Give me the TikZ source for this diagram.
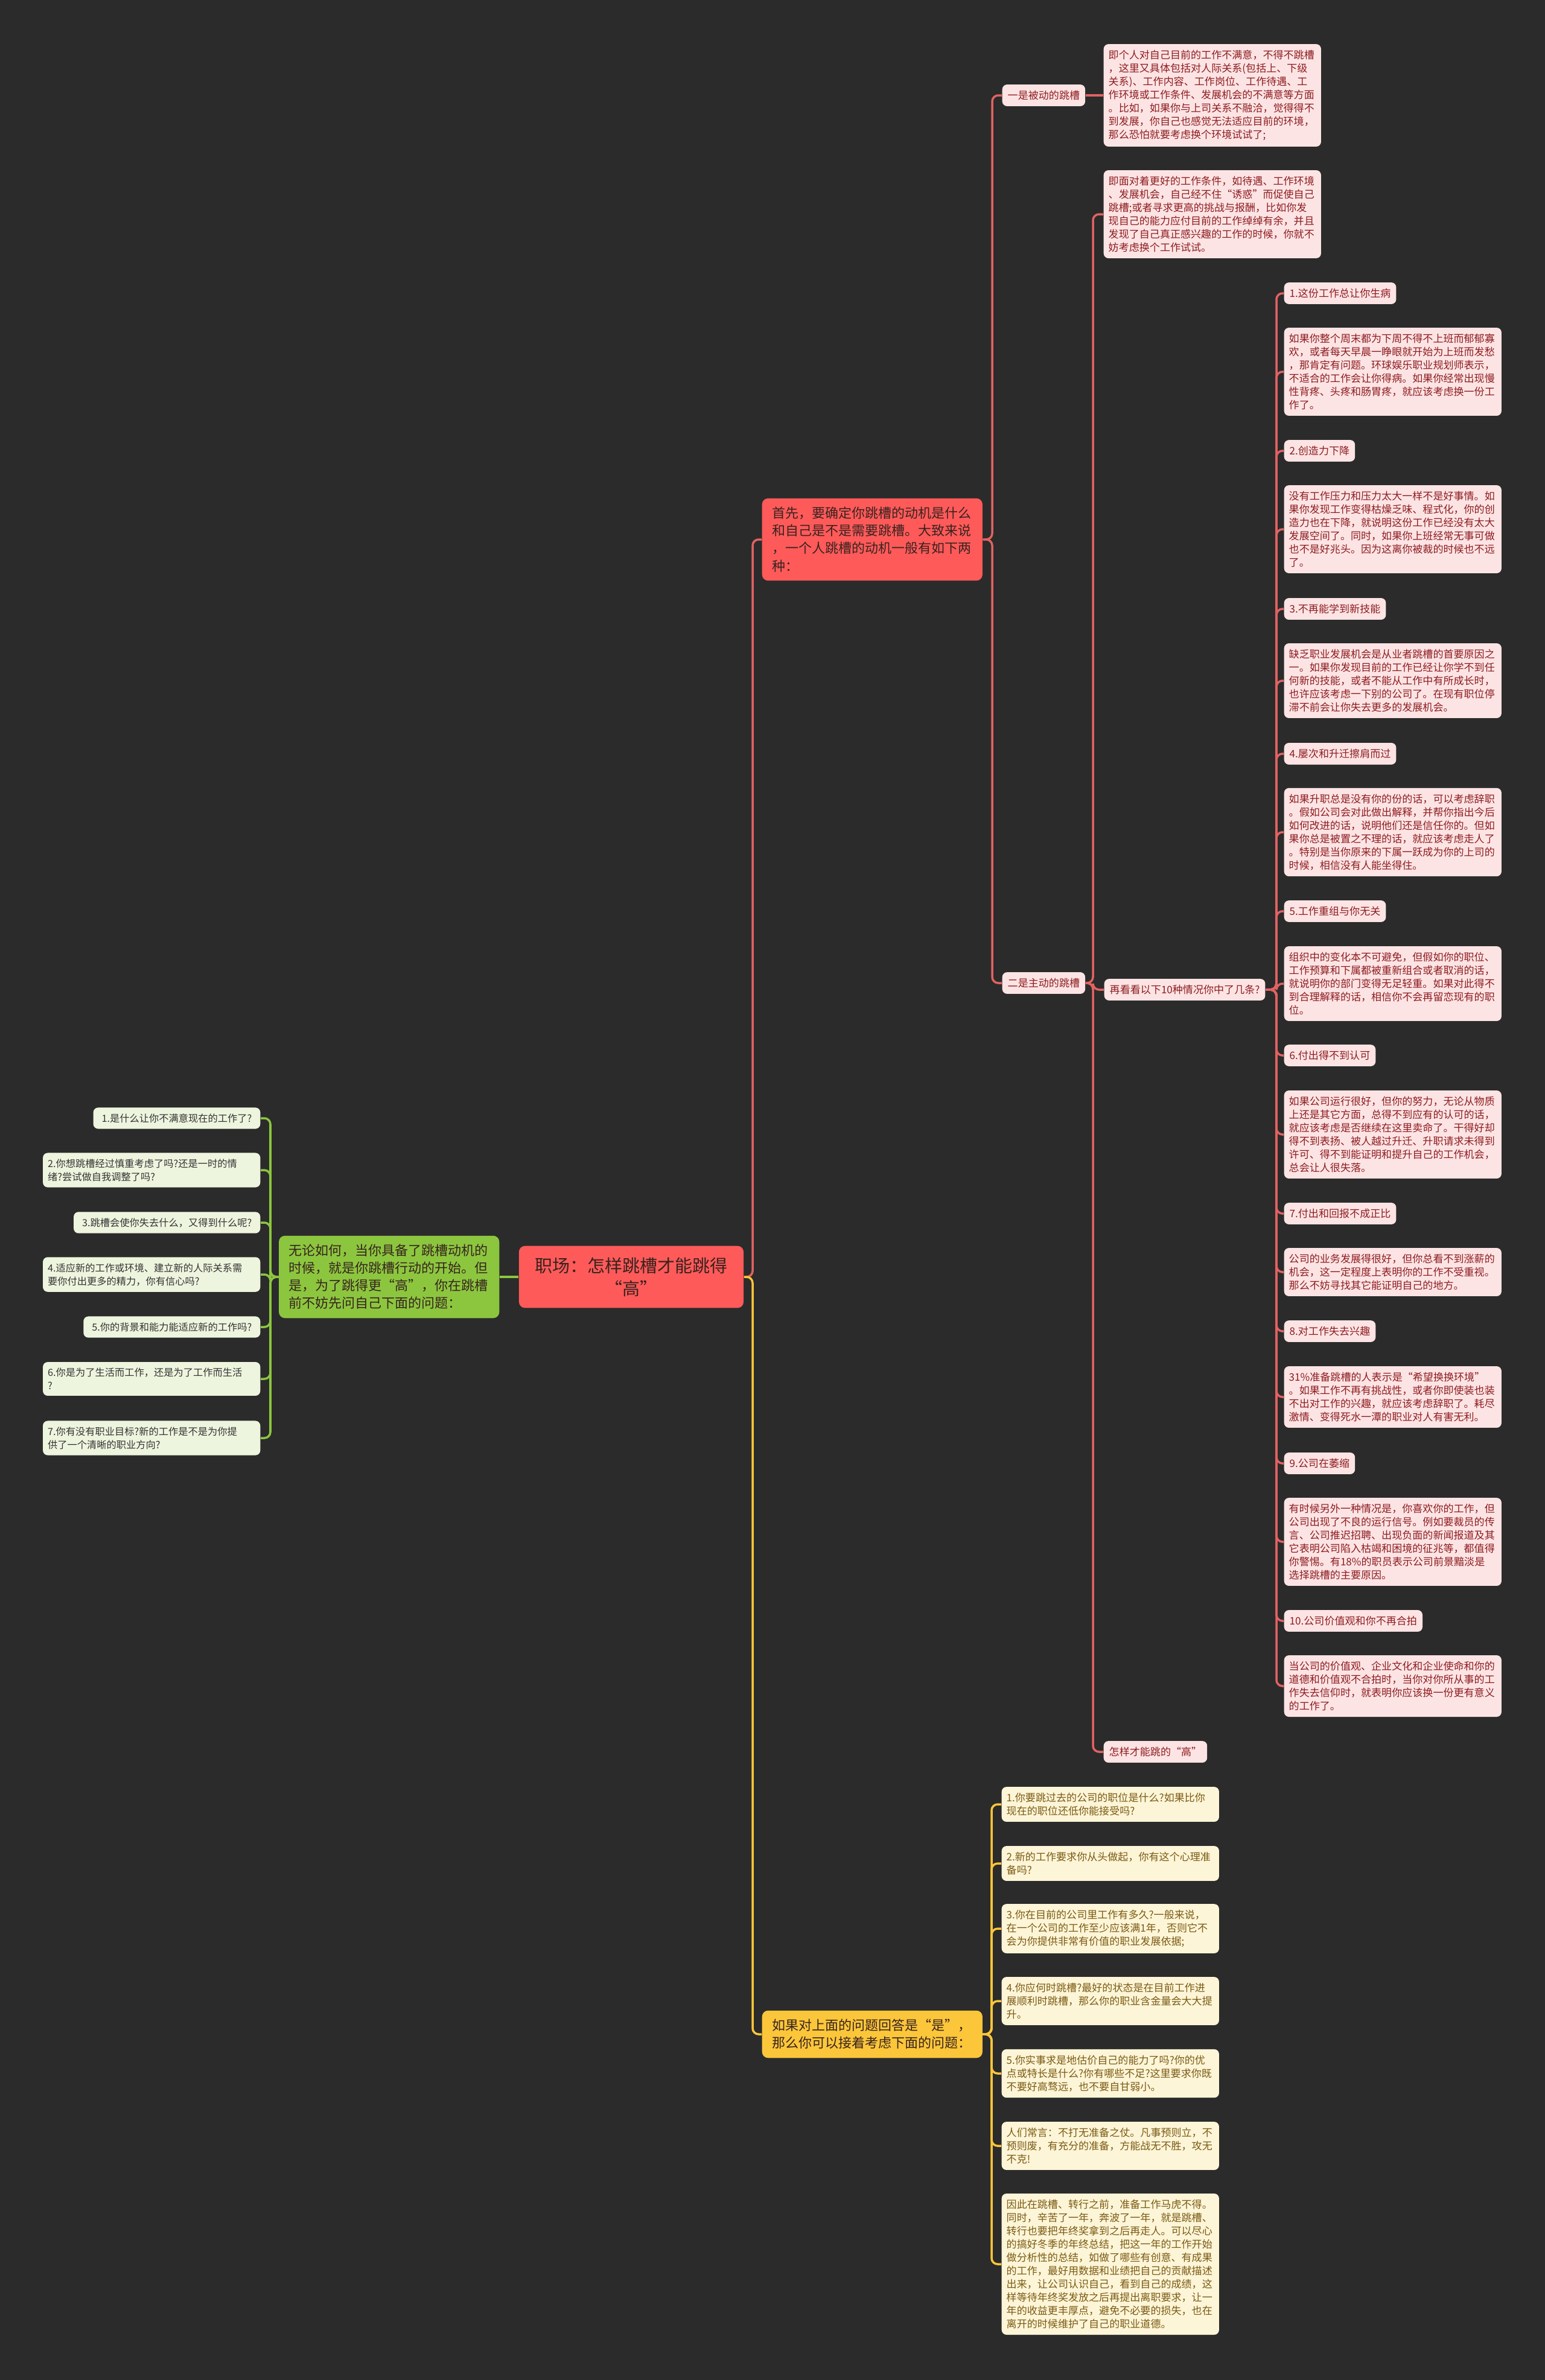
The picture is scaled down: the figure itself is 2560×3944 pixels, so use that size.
\documentclass[tikz,border=0pt]{standalone}
\usepackage{fontspec}
\setmainfont{Noto Sans CJK SC}
\usetikzlibrary{positioning}

\definecolor{bgc}{RGB}{43,43,43}
\definecolor{cRed}{RGB}{255,90,90}
\definecolor{cRedLine}{RGB}{226,98,98}
\definecolor{cPink}{RGB}{253,228,228}
\definecolor{cPinkTxt}{RGB}{140,28,32}
\definecolor{cGreen}{RGB}{140,198,63}
\definecolor{cGreenLt}{RGB}{238,245,222}
\definecolor{cYellow}{RGB}{252,198,58}
\definecolor{cYellowLt}{RGB}{253,245,215}
\definecolor{cBrown}{RGB}{122,90,20}
\definecolor{cDark}{RGB}{55,35,30}

\begin{document}
\begin{tikzpicture}[x=0.01cm,y=-0.01cm,
    bignode/.style={rounded corners=0.1cm,text width=3.32cm,inner xsep=0.165cm,inner ysep=0.145cm,
      font=\fontsize{6.26}{8.25}\selectfont,align=left,text=cDark},
    box/.style={rounded corners=0.08cm,text width=3.44cm,inner xsep=0.08cm,inner ysep=0.1cm,
      font=\fontsize{4.85}{6.26}\selectfont,align=left},
    lbl/.style={rounded corners=0.08cm,inner xsep=0.09cm,inner ysep=0.1cm,
      font=\fontsize{4.85}{6.26}\selectfont},
    pinkbox/.style={box,fill=cPink,text=cPinkTxt},
    pinklbl/.style={lbl,fill=cPink,text=cPinkTxt},
    ylwbox/.style={box,fill=cYellowLt,text=cBrown},
    grnbox/.style={box,fill=cGreenLt,text=black!80,font=\fontsize{4.62}{6.26}\selectfont},
    grnlbl/.style={lbl,fill=cGreenLt,text=black!80,inner xsep=0.14cm,font=\fontsize{4.62}{6.26}\selectfont},
    redln/.style={draw=cRedLine,line width=1pt,rounded corners=0.1cm},
    grnln/.style={draw=cGreen,line width=1pt,rounded corners=0.1cm},
    ylwln/.style={draw=cYellow,line width=1pt,rounded corners=0.1cm}]
  \fill[bgc] (0,0) rectangle (2560,3944);

  % trunks
  \coordinate (tR) at (1247,0);
  \coordinate (tA) at (1644,0);
  \coordinate (tB) at (1811,0);
  \coordinate (tC) at (2115,0);
  \coordinate (tY) at (1643,0);
  \coordinate (tG) at (448,0);

  % main nodes
  \node [fill=cRed,rounded corners=0.1cm,align=center,minimum width=3.72cm,inner ysep=0.19cm,
    font=\fontsize{8.25}{10.8}\selectfont,text=cDark] (root) at (1046,2116) {职场：怎样跳槽才能跳得\\“高”};
  \node [bignode,fill=cGreen,anchor=east] (grn) at (828,2116) {无论如何，当你具备了跳槽动机的\\时候，就是你跳槽行动的开始。但\\是，为了跳得更“高”，你在跳槽\\前不妨先问自己下面的问题：};
  \node [bignode,fill=cRed,anchor=west] (red) at (1262,894) {首先，要确定你跳槽的动机是什么\\和自己是不是需要跳槽。大致来说\\，一个人跳槽的动机一般有如下两\\种：};
  \node [bignode,fill=cYellow,anchor=west] (ylw) at (1262,3371) {如果对上面的问题回答是“是”，\\那么你可以接着考虑下面的问题：};

  % left leaves
  \node [grnlbl,anchor=east] (L1) at (432,1853) {1.是什么让你不满意现在的工作了?};
  \node [grnbox,anchor=east] (L2) at (432,1939) {2.你想跳槽经过慎重考虑了吗?还是一时的情\\绪?尝试做自我调整了吗?};
  \node [grnlbl,anchor=east] (L3) at (432,2026) {3.跳槽会使你失去什么，又得到什么呢?};
  \node [grnbox,anchor=east] (L4) at (432,2112) {4.适应新的工作或环境、建立新的人际关系需\\要你付出更多的精力，你有信心吗?};
  \node [grnlbl,anchor=east] (L5) at (432,2199) {5.你的背景和能力能适应新的工作吗?};
  \node [grnbox,anchor=east] (L6) at (432,2285) {6.你是为了生活而工作，还是为了工作而生活\\?};
  \node [grnbox,anchor=east] (L7) at (432,2383) {7.你有没有职业目标?新的工作是不是为你提\\供了一个清晰的职业方向?};

  % two kinds
  \node [pinklbl,anchor=west] (P1) at (1660,158) {一是被动的跳槽};
  \node [pinkbox,anchor=west] (D1) at (1828,158) {即个人对自己目前的工作不满意，不得不跳槽\\，这里又具体包括对人际关系(包括上、下级\\关系)、工作内容、工作岗位、工作待遇、工\\作环境或工作条件、发展机会的不满意等方面\\。比如，如果你与上司关系不融洽，觉得得不\\到发展，你自己也感觉无法适应目前的环境，\\那么恐怕就要考虑换个环境试试了;};
  \node [pinklbl,anchor=west] (P2) at (1660,1629) {二是主动的跳槽};
  \node [pinkbox,anchor=west] (D2) at (1828,355) {即面对着更好的工作条件，如待遇、工作环境\\、发展机会，自己经不住“诱惑”而促使自己\\跳槽;或者寻求更高的挑战与报酬，比如你发\\现自己的能力应付目前的工作绰绰有余，并且\\发现了自己真正感兴趣的工作的时候，你就不\\妨考虑换个工作试试。};
  \node [pinklbl,anchor=west] (Q) at (1829,1640) {再看看以下10种情况你中了几条?};
  \node [pinklbl,anchor=west] (H) at (1828,2903) {怎样才能跳的“高”};

  % ten cases
  \node [pinklbl,anchor=west] (I1) at (2127,486) {1.这份工作总让你生病};
  \node [pinkbox,anchor=west] (T1) at (2127,616) {如果你整个周末都为下周不得不上班而郁郁寡\\欢，或者每天早晨一睁眼就开始为上班而发愁\\，那肯定有问题。环球娱乐职业规划师表示，\\不适合的工作会让你得病。如果你经常出现慢\\性背疼、头疼和肠胃疼，就应该考虑换一份工\\作了。};
  \node [pinklbl,anchor=west] (I2) at (2127,747) {2.创造力下降};
  \node [pinkbox,anchor=west] (T2) at (2127,877) {没有工作压力和压力太大一样不是好事情。如\\果你发现工作变得枯燥乏味、程式化，你的创\\造力也在下降，就说明这份工作已经没有太大\\发展空间了。同时，如果你上班经常无事可做\\也不是好兆头。因为这离你被裁的时候也不远\\了。};
  \node [pinklbl,anchor=west] (I3) at (2127,1009) {3.不再能学到新技能};
  \node [pinkbox,anchor=west] (T3) at (2127,1128) {缺乏职业发展机会是从业者跳槽的首要原因之\\一。如果你发现目前的工作已经让你学不到任\\何新的技能，或者不能从工作中有所成长时，\\也许应该考虑一下别的公司了。在现有职位停\\滞不前会让你失去更多的发展机会。};
  \node [pinklbl,anchor=west] (I4) at (2127,1249) {4.屡次和升迁擦肩而过};
  \node [pinkbox,anchor=west] (T4) at (2127,1379) {如果升职总是没有你的份的话，可以考虑辞职\\。假如公司会对此做出解释，并帮你指出今后\\如何改进的话，说明他们还是信任你的。但如\\果你总是被置之不理的话，就应该考虑走人了\\。特别是当你原来的下属一跃成为你的上司的\\时候，相信没有人能坐得住。};
  \node [pinklbl,anchor=west] (I5) at (2127,1510) {5.工作重组与你无关};
  \node [pinkbox,anchor=west] (T5) at (2127,1630) {组织中的变化本不可避免，但假如你的职位、\\工作预算和下属都被重新组合或者取消的话，\\就说明你的部门变得无足轻重。如果对此得不\\到合理解释的话，相信你不会再留恋现有的职\\位。};
  \node [pinklbl,anchor=west] (I6) at (2127,1749) {6.付出得不到认可};
  \node [pinkbox,anchor=west] (T6) at (2127,1880) {如果公司运行很好，但你的努力，无论从物质\\上还是其它方面，总得不到应有的认可的话，\\就应该考虑是否继续在这里卖命了。干得好却\\得不到表扬、被人越过升迁、升职请求未得到\\许可、得不到能证明和提升自己的工作机会，\\总会让人很失落。};
  \node [pinklbl,anchor=west] (I7) at (2127,2011) {7.付出和回报不成正比};
  \node [pinkbox,anchor=west] (T7) at (2127,2108) {公司的业务发展得很好，但你总看不到涨薪的\\机会，这一定程度上表明你的工作不受重视。\\那么不妨寻找其它能证明自己的地方。};
  \node [pinklbl,anchor=west] (I8) at (2127,2206) {8.对工作失去兴趣};
  \node [pinkbox,anchor=west] (T8) at (2127,2315) {31\%准备跳槽的人表示是“希望换换环境”\\。如果工作不再有挑战性，或者你即使装也装\\不出对工作的兴趣，就应该考虑辞职了。耗尽\\激情、变得死水一潭的职业对人有害无利。};
  \node [pinklbl,anchor=west] (I9) at (2127,2425) {9.公司在萎缩};
  \node [pinkbox,anchor=west] (T9) at (2127,2555) {有时候另外一种情况是，你喜欢你的工作，但\\公司出现了不良的运行信号。例如要裁员的传\\言、公司推迟招聘、出现负面的新闻报道及其\\它表明公司陷入枯竭和困境的征兆等，都值得\\你警惕。有18\%的职员表示公司前景黯淡是\\选择跳槽的主要原因。};
  \node [pinklbl,anchor=west] (I10) at (2127,2686) {10.公司价值观和你不再合拍};
  \node [pinkbox,anchor=west] (T10) at (2127,2794) {当公司的价值观、企业文化和企业使命和你的\\道德和价值观不合拍时，当你对你所从事的工\\作失去信仰时，就表明你应该换一份更有意义\\的工作了。};

  % yellow leaves
  \node [ylwbox,anchor=west] (Y1) at (1659,2990) {1.你要跳过去的公司的职位是什么?如果比你\\现在的职位还低你能接受吗?};
  \node [ylwbox,anchor=west] (Y2) at (1659,3088) {2.新的工作要求你从头做起，你有这个心理准\\备吗?};
  \node [ylwbox,anchor=west] (Y3) at (1659,3196) {3.你在目前的公司里工作有多久?一般来说，\\在一个公司的工作至少应该满1年，否则它不\\会为你提供非常有价值的职业发展依据;};
  \node [ylwbox,anchor=west] (Y4) at (1659,3316) {4.你应何时跳槽?最好的状态是在目前工作进\\展顺利时跳槽，那么你的职业含金量会大大提\\升。};
  \node [ylwbox,anchor=west] (Y5) at (1659,3436) {5.你实事求是地估价自己的能力了吗?你的优\\点或特长是什么?你有哪些不足?这里要求你既\\不要好高骛远，也不要自甘弱小。};
  \node [ylwbox,anchor=west] (Y6) at (1659,3556) {人们常言：不打无准备之仗。凡事预则立，不\\预则废，有充分的准备，方能战无不胜，攻无\\不克!};
  \node [ylwbox,anchor=west] (Y7) at (1659,3752) {因此在跳槽、转行之前，准备工作马虎不得。\\同时，辛苦了一年，奔波了一年，就是跳槽、\\转行也要把年终奖拿到之后再走人。可以尽心\\的搞好冬季的年终总结，把这一年的工作开始\\做分析性的总结，如做了哪些有创意、有成果\\的工作，最好用数据和业绩把自己的贡献描述\\出来，让公司认识自己，看到自己的成绩，这\\样等待年终奖发放之后再提出离职要求，让一\\年的收益更丰厚点，避免不必要的损失，也在\\离开的时候维护了自己的职业道德。};

  % connectors
  \draw [redln] (root.east) -- (root.east -| tR) |- (red.west);
  \draw [ylwln] (root.east) -- (root.east -| tR) |- (ylw.west);
  \draw [grnln] (root.west) -- (grn.east);
  \draw [grnln] (grn.west) -- (grn.west -| tG) |- (L1.east);
  \draw [grnln] (grn.west) -- (grn.west -| tG) |- (L2.east);
  \draw [grnln] (grn.west) -- (grn.west -| tG) |- (L3.east);
  \draw [grnln] (grn.west) -- (grn.west -| tG) |- (L4.east);
  \draw [grnln] (grn.west) -- (grn.west -| tG) |- (L5.east);
  \draw [grnln] (grn.west) -- (grn.west -| tG) |- (L6.east);
  \draw [grnln] (grn.west) -- (grn.west -| tG) |- (L7.east);
  \draw [redln] (red.east) -- (red.east -| tA) |- (P1.west);
  \draw [redln] (red.east) -- (red.east -| tA) |- (P2.west);
  \draw [redln] (P1.east) -- (D1.west);
  \draw [redln] (P2.east) -- (P2.east -| tB) |- (D2.west);
  \draw [redln] (P2.east) -- (P2.east -| tB) |- (Q.west);
  \draw [redln] (P2.east) -- (P2.east -| tB) |- (H.west);
  \draw [redln] (Q.east) -- (Q.east -| tC) |- (I1.west);
  \draw [redln] (Q.east) -- (Q.east -| tC) |- (T1.west);
  \draw [redln] (Q.east) -- (Q.east -| tC) |- (I2.west);
  \draw [redln] (Q.east) -- (Q.east -| tC) |- (T2.west);
  \draw [redln] (Q.east) -- (Q.east -| tC) |- (I3.west);
  \draw [redln] (Q.east) -- (Q.east -| tC) |- (T3.west);
  \draw [redln] (Q.east) -- (Q.east -| tC) |- (I4.west);
  \draw [redln] (Q.east) -- (Q.east -| tC) |- (T4.west);
  \draw [redln] (Q.east) -- (Q.east -| tC) |- (I5.west);
  \draw [redln] (Q.east) -- (Q.east -| tC) |- (T5.west);
  \draw [redln] (Q.east) -- (Q.east -| tC) |- (I6.west);
  \draw [redln] (Q.east) -- (Q.east -| tC) |- (T6.west);
  \draw [redln] (Q.east) -- (Q.east -| tC) |- (I7.west);
  \draw [redln] (Q.east) -- (Q.east -| tC) |- (T7.west);
  \draw [redln] (Q.east) -- (Q.east -| tC) |- (I8.west);
  \draw [redln] (Q.east) -- (Q.east -| tC) |- (T8.west);
  \draw [redln] (Q.east) -- (Q.east -| tC) |- (I9.west);
  \draw [redln] (Q.east) -- (Q.east -| tC) |- (T9.west);
  \draw [redln] (Q.east) -- (Q.east -| tC) |- (I10.west);
  \draw [redln] (Q.east) -- (Q.east -| tC) |- (T10.west);
  \draw [ylwln] (ylw.east) -- (ylw.east -| tY) |- (Y1.west);
  \draw [ylwln] (ylw.east) -- (ylw.east -| tY) |- (Y2.west);
  \draw [ylwln] (ylw.east) -- (ylw.east -| tY) |- (Y3.west);
  \draw [ylwln] (ylw.east) -- (ylw.east -| tY) |- (Y4.west);
  \draw [ylwln] (ylw.east) -- (ylw.east -| tY) |- (Y5.west);
  \draw [ylwln] (ylw.east) -- (ylw.east -| tY) |- (Y6.west);
  \draw [ylwln] (ylw.east) -- (ylw.east -| tY) |- (Y7.west);
\end{tikzpicture}
\end{document}
